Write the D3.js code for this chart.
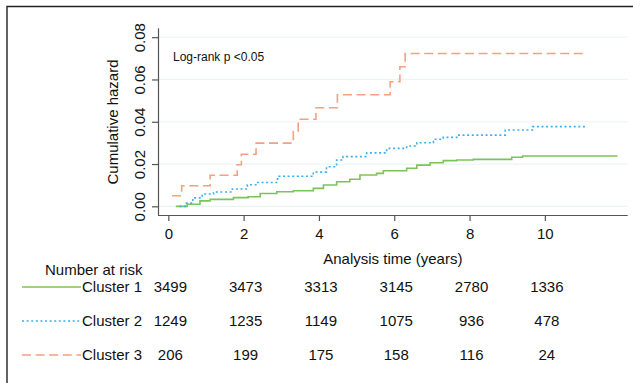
<!DOCTYPE html>
<html>
<head>
<meta charset="utf-8">
<script src="https://cdn.jsdelivr.net/npm/d3@7"></script>
<style>
  body { margin: 0; background: #fff; }
  text { font-family: "Liberation Sans", Arial, sans-serif; fill: #111; }
</style>
</head>
<body>
<div id="chart"></div>
<script>
// time (years) and cumulative hazard for each cluster
const times1 = [0.2, 0.5, 0.84, 1.11, 1.73, 2.12, 2.44, 2.88, 3.32, 3.85, 4.12, 4.47, 4.82, 5.09, 5.53, 5.71, 6.33, 6.6, 6.95, 7.3, 7.66, 8.1, 9.12, 9.41, 11.93];
const haz1 = [0, 0.001, 0.0026, 0.0033, 0.0041, 0.0045, 0.0061, 0.0069, 0.0074, 0.0085, 0.0101, 0.0116, 0.0128, 0.0148, 0.0156, 0.0168, 0.018, 0.0195, 0.0206, 0.0216, 0.0219, 0.0222, 0.0232, 0.0238, 0.0238];

const times2 = [0.3, 0.45, 0.65, 0.9, 1.2, 1.7, 2.1, 2.35, 2.9, 3.85, 4.2, 4.47, 4.64, 5.27, 5.8, 6.33, 6.6, 7.04, 7.3, 7.66, 8.95, 9.67, 11.1];
const haz2 = [0, 0.0015, 0.004, 0.0058, 0.0068, 0.0082, 0.0102, 0.0113, 0.0142, 0.0162, 0.0187, 0.0219, 0.0235, 0.0253, 0.0274, 0.0285, 0.0301, 0.0317, 0.0326, 0.0337, 0.0361, 0.0377, 0.0377];

const times3 = [0.1, 0.355, 1.11, 1.83, 1.94, 2.33, 3.32, 3.45, 3.92, 4.49, 5.89, 6.15, 6.29, 11.07];
const haz3 = [0.005, 0.0097, 0.0147, 0.0197, 0.0246, 0.0299, 0.0355, 0.0412, 0.0466, 0.0528, 0.0589, 0.066, 0.0723, 0.0723];

// axis ticks
const xTicks = [0, 2, 4, 6, 8, 10];
const yTicks = [0, 0.02, 0.04, 0.06, 0.08];

// number at risk table
const clusterNames = ["Cluster 1", "Cluster 2", "Cluster 3"];
const risk1 = [3499, 3473, 3313, 3145, 2780, 1336];
const risk2 = [1249, 1235, 1149, 1075, 936, 478];
const risk3 = [206, 199, 175, 158, 116, 24];

const width = 633;
const height = 383;
const plot = { left: 158, right: 627.7, top: 28.3, bottom: 215 };

const colors = ["#7cc35a", "#3cb0ee", "#f5a07f"];
const dashes = [null, "2,2.6", "9,4.6"];

const svg = d3.select("#chart")
  .append("svg")
  .attr("width", width)
  .attr("height", height);

svg.append("rect").attr("width", width).attr("height", height).attr("fill", "#fff");

// frame (top and left only visible)
svg.append("path")
  .attr("d", `M7,${height} V6.5 H${width}`)
  .attr("fill", "none")
  .attr("stroke", "#222")
  .attr("stroke-width", 1.4);

const x = d3.scaleLinear()
  .domain([-0.274, 12.2])
  .range([plot.left, plot.right]);

const y = d3.scaleLinear()
  .domain([-0.0041, 0.0842])
  .range([plot.bottom, plot.top]);

// gridlines
svg.append("g")
  .selectAll("line")
  .data(yTicks)
  .join("line")
  .attr("x1", plot.left)
  .attr("x2", plot.right)
  .attr("y1", d => y(d))
  .attr("y2", d => y(d))
  .attr("stroke", "#eaf4f4")
  .attr("stroke-width", 1.2);

// curves
const line = d3.line()
  .x(d => x(d[0]))
  .y(d => y(d[1]))
  .curve(d3.curveStepAfter);

const series = [
  d3.zip(times1, haz1),
  d3.zip(times2, haz2),
  d3.zip(times3, haz3)
];

svg.append("g")
  .selectAll("path")
  .data(series)
  .join("path")
  .attr("d", line)
  .attr("fill", "none")
  .attr("stroke", (d, i) => colors[i])
  .attr("stroke-width", 1.6)
  .attr("stroke-dasharray", (d, i) => dashes[i]);

// axes
const xAxis = svg.append("g")
  .attr("transform", `translate(0,${plot.bottom})`)
  .call(d3.axisBottom(x).tickValues(xTicks).tickSize(6).tickPadding(7).tickSizeOuter(0));

const yAxis = svg.append("g")
  .attr("transform", `translate(${plot.left},0)`)
  .call(d3.axisLeft(y).tickValues(yTicks).tickSize(6).tickFormat(d3.format(".2f")).tickSizeOuter(0));

[xAxis, yAxis].forEach(g => {
  g.select(".domain").attr("stroke", "#555").attr("stroke-width", 1.2);
  g.selectAll(".tick line").attr("stroke", "#555").attr("stroke-width", 1.2);
  g.selectAll("text").style("font-size", "15px").attr("fill", "#111");
});

xAxis.select(".domain").attr("d", `M${plot.left},0.5H${plot.right}`);
yAxis.select(".domain").attr("d", `M0.5,${plot.top}V${plot.bottom}`);

yAxis.selectAll(".tick text")
  .attr("x", 0)
  .attr("y", 0)
  .attr("dy", "0.35em")
  .attr("text-anchor", "middle")
  .attr("transform", "translate(-18,0) rotate(-90)");

// axis titles
svg.append("text")
  .attr("transform", "translate(118,122) rotate(-90)")
  .attr("text-anchor", "middle")
  .style("font-size", "15px")
  .text("Cumulative hazard");

svg.append("text")
  .attr("x", (plot.left + plot.right) / 2)
  .attr("y", 264)
  .attr("text-anchor", "middle")
  .style("font-size", "15px")
  .text("Analysis time (years)");

svg.append("text")
  .attr("x", 173)
  .attr("y", 61)
  .style("font-size", "12px")
  .text("Log-rank p <0.05");

// number at risk
svg.append("text")
  .attr("x", 45)
  .attr("y", 275)
  .style("font-size", "15px")
  .text("Number at risk");

const rowY = [287, 321, 355];
const risks = [risk1, risk2, risk3];

const rows = svg.append("g")
  .selectAll("g")
  .data(clusterNames)
  .join("g")
  .attr("transform", (d, i) => `translate(0,${rowY[i]})`);

rows.append("line")
  .attr("x1", 22)
  .attr("x2", 81)
  .attr("stroke", (d, i) => colors[i])
  .attr("stroke-width", 1.6)
  .attr("stroke-dasharray", (d, i) => dashes[i]);

rows.append("text")
  .attr("x", 82)
  .attr("dy", "0.35em")
  .style("font-size", "15px")
  .text(d => d);

rows.each(function (d, i) {
  d3.select(this).selectAll("text.n")
    .data(risks[i])
    .join("text")
    .attr("class", "n")
    .attr("x", (v, j) => x(xTicks[j]) + 2)
    .attr("dy", "0.35em")
    .attr("text-anchor", "middle")
    .style("font-size", "15px")
    .text(v => v);
});
</script>
</body>
</html>
